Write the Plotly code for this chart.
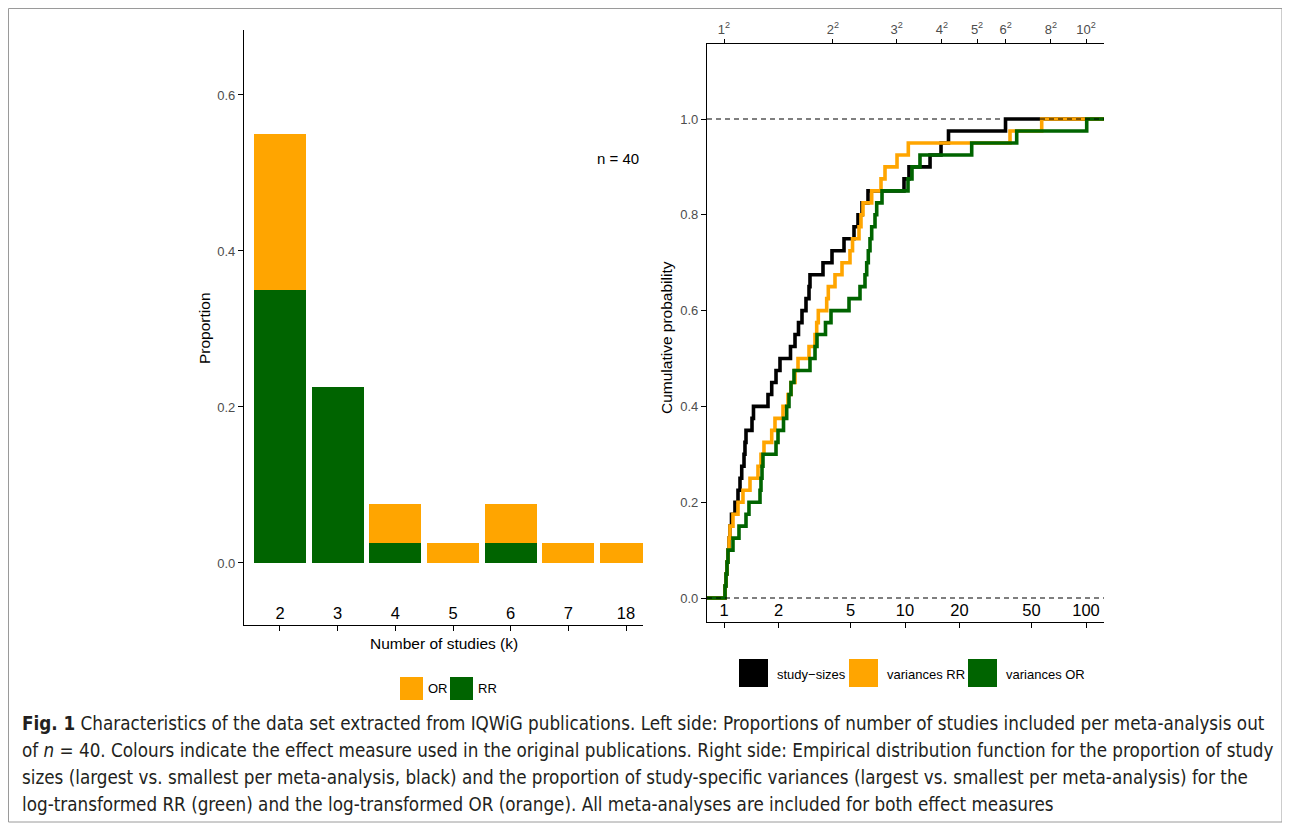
import plotly.graph_objects as go

# ---------------- data ----------------
k_labels = ["2", "3", "4", "5", "6", "7", "18"]
prop_RR = [0.35, 0.225, 0.025, 0.0, 0.025, 0.0, 0.0]
prop_OR = [0.20, 0.0, 0.05, 0.025, 0.05, 0.025, 0.025]
n_total = 40

study_sizes = [1.013, 1.026, 1.039, 1.052, 1.066, 1.079, 1.100, 1.150, 1.195, 1.226,
               1.253, 1.290, 1.306, 1.323, 1.428, 1.455, 1.750, 1.835, 1.938, 2.039,
               2.330, 2.468, 2.580, 2.697, 2.838, 2.949, 2.986, 3.523, 3.951, 4.603,
               5.227, 5.500, 5.787, 6.246, 9.874, 10.52, 13.75, 15.81, 17.39, 35.92]
variances_RR = [1.013, 1.026, 1.039, 1.052, 1.066, 1.079, 1.121, 1.195, 1.273, 1.392,
                1.541, 1.601, 1.663, 1.835, 1.913, 2.118, 2.257, 2.345, 2.468, 2.564,
                2.949, 3.183, 3.252, 3.319, 3.693, 3.769, 4.104, 4.487, 4.967, 5.129,
                5.570, 5.713, 5.861, 6.547, 7.369, 7.754, 9.034, 10.43, 38.03, 56.92]
variances_OR = [1.013, 1.026, 1.039, 1.052, 1.121, 1.210, 1.323, 1.374, 1.581, 1.601,
                1.622, 1.642, 1.938, 1.988, 2.132, 2.220, 2.286, 2.345, 2.436, 2.986,
                3.183, 3.264, 3.637, 3.901, 4.905, 5.641, 6.011, 6.144, 6.270, 6.407,
                6.547, 6.828, 6.977, 7.464, 10.39, 10.93, 12.10, 23.36, 41.41, 100.9]

bottom_ticks = [1, 2, 5, 10, 20, 50, 100]
top_roots = [1, 2, 3, 4, 5, 6, 8, 10]

ORANGE = "#FFA500"
GREEN = "#006400"
BLACK = "#000000"
GREY = "#4D4D4D"
FONT = "Liberation Sans, Arial, Helvetica, sans-serif"
CAP_FONT = "DejaVu Sans Condensed, Liberation Sans Narrow, Roboto, sans-serif"

# page body has an 8px margin; the figure starts at (8, 8) of the window
OFF = 8
W, H = 1290 - OFF, 830 - OFF


def P(px, py):
    return (px - OFF) / W, 1 - (py - OFF) / H


# ---------------- figure ----------------
fig = go.Figure()

# left: stacked bars
fig.add_trace(go.Bar(x=k_labels, y=prop_RR, marker_color=GREEN, name="RR",
                     xaxis="x", yaxis="y", marker_line_width=0))
fig.add_trace(go.Bar(x=k_labels, y=prop_OR, marker_color=ORANGE, name="OR",
                     xaxis="x", yaxis="y", marker_line_width=0))

# right: ECDFs
xr_log = [-0.0939, 2.0994]
x_lo, x_hi = 10 ** xr_log[0], 10 ** xr_log[1]


def ecdf_xy(vals):
    s = sorted(vals)
    n = len(s)
    xs = [x_lo] + s + [x_hi]
    ys = [0.0] + [(i + 1) / n for i in range(n)] + [1.0]
    return xs, ys


for vals, col, nm in [(study_sizes, BLACK, "study-sizes"),
                      (variances_RR, ORANGE, "variances RR"),
                      (variances_OR, GREEN, "variances OR")]:
    xs, ys = ecdf_xy(vals)
    fig.add_trace(go.Scatter(x=xs, y=ys, mode="lines", line=dict(color=col, width=3.6, shape="hv"),
                             name=nm, xaxis="x2", yaxis="y2", cliponaxis=True))

# dummy trace for top axis
fig.add_trace(go.Scatter(x=[1, 100], y=[None, None], mode="markers", xaxis="x3", yaxis="y2",
                         hoverinfo="skip", showlegend=False))

lx0, ly1 = P(244, 30)
lx1, ly0 = P(643, 625)
rx0, ry1 = P(707, 44)
rx1, ry0 = P(1104, 622)

fig.update_layout(
    width=W, height=H,
    margin=dict(l=0, r=0, t=0, b=0),
    paper_bgcolor="white", plot_bgcolor="white",
    barmode="stack", bargap=0.1,
    showlegend=False,
    font=dict(family=FONT, color=BLACK),
    xaxis=dict(domain=[lx0, lx1], anchor="y", type="category", range=[-0.624, 6.294],
               showline=True, linecolor=BLACK, linewidth=1.3, showgrid=False, zeroline=False,
               ticks="outside", ticklen=5, tickwidth=1.3, tickcolor=BLACK,
               ticklabelposition="inside", ticklabelstandoff=3,
               tickfont=dict(size=16.5, color=BLACK, family=FONT)),
    yaxis=dict(domain=[ly0, ly1], anchor="x", range=[-0.0795, 0.6833],
               showline=True, linecolor=BLACK, linewidth=1.3, showgrid=False, zeroline=False,
               tickvals=[0, 0.2, 0.4, 0.6], ticktext=["0.0", "0.2", "0.4", "0.6"],
               ticks="outside", ticklen=5, tickwidth=1.1, tickcolor=BLACK,
               tickfont=dict(size=13, color=GREY, family=FONT)),
    xaxis2=dict(domain=[rx0, rx1], anchor="y2", type="log", range=xr_log,
                showline=True, linecolor=BLACK, linewidth=1.3, showgrid=False, zeroline=False,
                tickvals=bottom_ticks, ticktext=[str(t) for t in bottom_ticks],
                ticks="outside", ticklen=5, tickwidth=1.3, tickcolor=BLACK,
                ticklabelposition="inside", ticklabelstandoff=3,
                tickfont=dict(size=16.5, color=BLACK, family=FONT)),
    xaxis3=dict(overlaying="x2", anchor="y2", side="top", type="log", range=xr_log,
                showline=True, linecolor=BLACK, linewidth=1.3, showgrid=False, zeroline=False,
                tickvals=[r * r for r in top_roots],
                ticktext=[f"{r}<sup>2</sup>" for r in top_roots],
                ticks="outside", ticklen=4, tickwidth=1.1, tickcolor=BLACK,
                tickfont=dict(size=13, color=GREY, family=FONT)),
    yaxis2=dict(domain=[ry0, ry1], anchor="x2", range=[-0.0501, 1.1566],
                showline=True, linecolor=BLACK, linewidth=1.3, showgrid=False, zeroline=False,
                tickvals=[0, 0.2, 0.4, 0.6, 0.8, 1.0],
                ticktext=["0.0", "0.2", "0.4", "0.6", "0.8", "1.0"],
                ticks="outside", ticklen=5, tickwidth=1.1, tickcolor=BLACK,
                tickfont=dict(size=13, color=GREY, family=FONT)),
)

shapes = []
# dashed reference lines at 0 and 1
for yv in [0, 1]:
    shapes.append(dict(type="line", xref="x2 domain", yref="y2", x0=0, x1=1, y0=yv, y1=yv,
                       line=dict(color=BLACK, width=1.2, dash="5px,4px"), layer="above"))

# frame around figure
fx0, fy0 = P(8.5, 8.5)
fx1, fy1 = P(1282, 822)
shapes.append(dict(type="rect", xref="paper", yref="paper", x0=fx0, x1=fx1, y0=fy1, y1=fy0,
                   line=dict(color="#9a9a9a", width=1), fillcolor="rgba(0,0,0,0)", layer="below"))

annotations = []


def ann(text, px, py, size, xanchor="center", yanchor="middle", color=BLACK, angle=0, family=FONT):
    x, y = P(px, py)
    annotations.append(dict(text=text, x=x, y=y, xref="paper", yref="paper", showarrow=False,
                            xanchor=xanchor, yanchor=yanchor, textangle=angle,
                            font=dict(size=size, color=color, family=family)))


def key(px0, py0, px1, py1, col):
    x0, y0 = P(px0, py0)
    x1, y1 = P(px1, py1)
    shapes.append(dict(type="rect", xref="paper", yref="paper", x0=x0, x1=x1, y0=y1, y1=y0,
                       line=dict(width=0), fillcolor=col))


ann(f"n = {n_total}", 641, 158, 15, xanchor="right")
ann("Proportion", 204, 328, 15.5, angle=-90)
ann("Number of studies (k)", 444, 643, 15.5)
ann("Cumulative probability", 666, 338, 15.5, angle=-90)

# left legend
key(400, 677, 423, 700, ORANGE)
ann("OR", 426, 688.5, 13, xanchor="left")
key(450, 677, 473, 700, GREEN)
ann("RR", 476, 688.5, 13, xanchor="left")

# right legend
key(739, 659, 768, 687, BLACK)
ann("study\u2212sizes", 775, 674, 13, xanchor="left")
key(849, 659, 878, 687, ORANGE)
ann("variances RR", 885, 674, 13, xanchor="left")
key(968, 659, 997, 687, GREEN)
ann("variances OR", 1004, 674, 13, xanchor="left")

# caption
caption_lines = [
    "<b>Fig. 1</b> Characteristics of the data set extracted from IQWiG publications. Left side: Proportions of number of studies included per meta-analysis out",
    "of <i>n</i> = 40. Colours indicate the effect measure used in the original publications. Right side: Empirical distribution function for the proportion of study",
    "sizes (largest vs. smallest per meta-analysis, black) and the proportion of study-specific variances (largest vs. smallest per meta-analysis) for the",
    "log-transformed RR (green) and the log-transformed OR (orange). All meta-analyses are included for both effect measures",
]
for i, line in enumerate(caption_lines):
    ann(line, 20, 723 + 27 * i, 18.7, xanchor="left", color="#231f20", family=CAP_FONT)

fig.update_layout(shapes=shapes, annotations=annotations)

fig.write_html("out.html", config={"displayModeBar": False})
